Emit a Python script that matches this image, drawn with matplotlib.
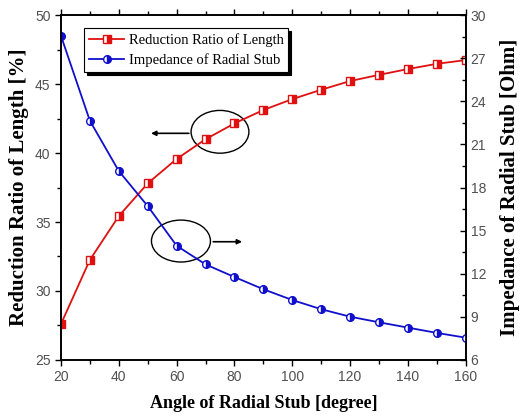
import matplotlib.pyplot as plt
from matplotlib.patches import Ellipse
from matplotlib.ticker import MultipleLocator

angle = [20, 30, 40, 50, 60, 70, 80, 90, 100, 110, 120, 130, 140, 150, 160]
reduction = [27.6, 32.25, 35.43, 37.8, 39.57, 41.0, 42.15, 43.12, 43.91,
             44.59, 45.22, 45.67, 46.09, 46.47, 46.74]
impedance = [28.56, 22.65, 19.15, 16.71, 13.95, 12.65, 11.77, 10.92, 10.17,
             9.53, 9.01, 8.62, 8.25, 7.88, 7.55]

serif = 'Liberation Serif'
sans = 'Liberation Sans'
tick_color = '#505050'

fig = plt.figure(figsize=(5.21, 4.2), dpi=100)
ax = fig.add_axes([0.117, 0.143, 0.777, 0.821])
ax2 = ax.twinx()

l1, = ax.plot(angle, reduction, color='#e01010', lw=1.3, marker='s', ms=5.5,
              fillstyle='right', markerfacecoloralt='white', mec='#e01010',
              mew=1.0, label='Reduction Ratio of Length')
l2, = ax2.plot(angle, impedance, color='#1010cc', lw=1.3, marker='o', ms=5.5,
               fillstyle='right', markerfacecoloralt='white', mec='#1010cc',
               mew=1.0, label='Impedance of Radial Stub')

ax.set_xlim(20, 160)
ax.set_ylim(25, 50)
ax2.set_ylim(6, 30)

ax.xaxis.set_major_locator(MultipleLocator(20))
ax.xaxis.set_minor_locator(MultipleLocator(10))
ax.yaxis.set_major_locator(MultipleLocator(5))
ax.yaxis.set_minor_locator(MultipleLocator(2.5))
ax2.yaxis.set_major_locator(MultipleLocator(3))
ax2.yaxis.set_minor_locator(MultipleLocator(1.5))

ax.tick_params(axis='both', which='major', direction='out', length=4,
               width=1, labelsize=10, labelcolor=tick_color)
ax.tick_params(axis='both', which='minor', direction='out', length=3, width=1)
ax.tick_params(axis='x', which='both', top=True)
ax2.tick_params(axis='y', which='major', direction='in', length=4, width=1,
                labelsize=10, labelcolor=tick_color)
ax2.tick_params(axis='y', which='minor', direction='in', length=3, width=1)
for lab in ax.get_xticklabels() + ax.get_yticklabels() + ax2.get_yticklabels():
    lab.set_fontfamily(sans)
for sp in list(ax.spines.values()) + list(ax2.spines.values()):
    sp.set_linewidth(1.2)

ax.set_xlabel('Angle of Radial Stub [degree]', fontfamily=serif,
              fontweight='bold', fontsize=13, labelpad=8)
ax.set_ylabel('Reduction Ratio of Length [%]', fontfamily=serif,
              fontweight='bold', fontsize=15, labelpad=4)
ax2.set_ylabel('Impedance of Radial Stub [Ohm]', fontfamily=serif,
               fontweight='bold', fontsize=15, labelpad=10)

# annotation ellipses and arrows
ax.add_patch(Ellipse((75.0, 41.54), 20, 3.1, fill=False, ec='black', lw=1.0))
ax.annotate('', xy=(50.2, 41.43), xytext=(65.2, 41.43),
            arrowprops=dict(arrowstyle='-|>', color='black', lw=1.2,
                            mutation_scale=7))
ax.add_patch(Ellipse((61.5, 33.62), 20.4, 3.04, fill=False, ec='black', lw=1.0))
ax.annotate('', xy=(83.6, 33.57), xytext=(71.7, 33.57),
            arrowprops=dict(arrowstyle='-|>', color='black', lw=1.2,
                            mutation_scale=7))

leg = ax2.legend(handles=[l1, l2], loc='upper left',
                 bbox_to_anchor=(0.057, 0.962), frameon=True, fancybox=False,
                 edgecolor='black', shadow={'color': 'black', 'alpha': 1},
                 prop={'family': serif, 'size': 10.5}, handlelength=2.4,
                 borderpad=0.35, labelspacing=0.4, handletextpad=0.3,
                 borderaxespad=0)
leg.get_frame().set_linewidth(0.8)

fig.savefig('out.png', dpi=100)
